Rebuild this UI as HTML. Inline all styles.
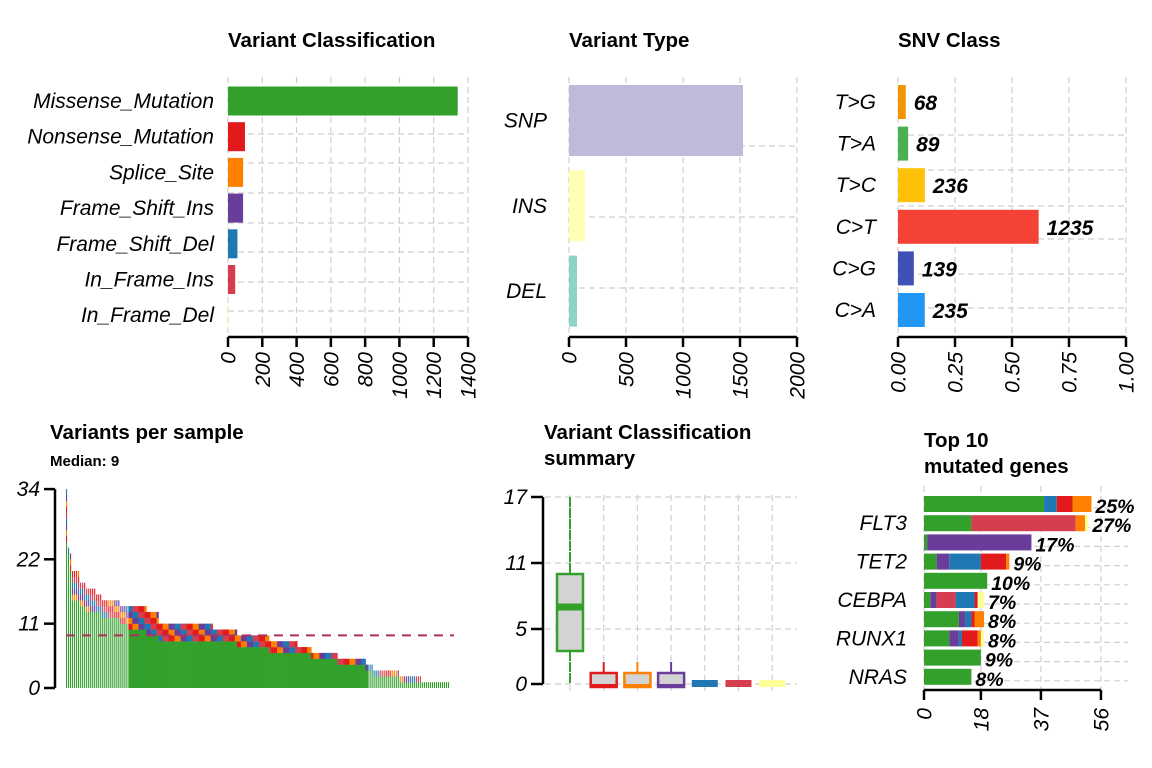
<!DOCTYPE html>
<html><head><meta charset="utf-8"><style>
html,body{margin:0;padding:0;background:#fff}
svg{display:block;font-family:"Liberation Sans",Arial,sans-serif}
.t{font-weight:bold;font-size:20.5px}
.lab{font-style:italic;font-size:21px}
.g{stroke:#cfcfcf;stroke-width:1.2;stroke-dasharray:6,4;fill:none}
.ax{stroke:#000;stroke-width:2.5;fill:none}
</style></head><body>
<svg id="s" width="1152" height="768" viewBox="0 0 1152 768"></svg>
<script>
// ---- data ----
const vcCats=["Missense_Mutation","Nonsense_Mutation","Splice_Site","Frame_Shift_Ins","Frame_Shift_Del","In_Frame_Ins","In_Frame_Del"];
const vcVals=[1340,99,88,88,55,42,3];
const vcCols=["#33A02C","#E31A1C","#FF7F00","#6A3D9A","#1F78B4","#D53E4F","#FFFF99"];
const vcTicks=[0,200,400,600,800,1000,1200,1400];
const vtCats=["SNP","INS","DEL"];
const vtVals=[1526,140,70];
const vtCols=["#BEBADA","#FFFFB3","#8DD3C7"];
const vtTicks=[0,500,1000,1500,2000];
const snvCats=["T>G","T>A","T>C","C>T","C>G","C>A"];
const snvCounts=[68,89,236,1235,139,235];
const snvCols=["#F29403","#4CAF50","#FFC107","#F44336","#3F51B5","#2196F3"];
const snvTicks=["0.00","0.25","0.50","0.75","1.00"];
// per-sample runs: [number of samples, total variants, missense variants]
const vpsRuns=[[1,34,25],[1,24,23],[1,23,20],[4,20,15],[3,18,14],[5,17,13],[3,16,13],[9,15,12],[4,14,11],[9,14,10],[6,13,9],[27,11,8],[12,10,8],[16,9,7],[14,8,6],[7,7,6],[13,6,5],[14,5,4],[4,4,3],[13,3,2],[11,2,1],[14,1,1]];
const vpsTicks=[0,11,22,34];
const vpsMedian=9;
const boxQ1=[3,0,0,0,0,0,0];
const boxMed=[7,0,0,0,0,0,0];
const boxQ3=[10,1,1,1,0,0,0];
const boxMax=[17,2,2,2,0,0,0];
const boxTicks=[0,5,11,17];
const genes=["DNMT3A","FLT3","NPM1","TET2","IDH2","CEBPA","TP53","RUNX1","IDH1","NRAS"];
const geneShow=[false,true,false,true,false,true,false,true,false,true];
const gMis=[38,15,1,4,20,2,11,8,18,15];
const gNon=[5,0,0,8,0,1,1,5,0,0];
const gSpl=[6,3,0,1,0,0,3,1,0,0];
const gFsi=[0,0,33,4,0,2,2,3,0,0];
const gFsd=[4,0,0,10,0,6,2,1,0,0];
const gIfi=[0,33,0,0,0,6,0,0,0,0];
const gIfd=[0,1,0,0,0,2,0,1,0,0];
const gPct=["25%","27%","17%","9%","10%","7%","8%","8%","9%","8%"];
const gTicks=[0,18,37,56];

const S=document.getElementById('s');const NS="http://www.w3.org/2000/svg";
function mk(tag,attrs,parent,txt){const e=document.createElementNS(NS,tag);for(const k in attrs)e.setAttribute(k,attrs[k]);if(txt!==undefined)e.textContent=txt;(parent||S).appendChild(e);return e;}
function grp(name){const g=mk('g',{});


return g;}
function rotTick(g,x,y,txt,name){const t=mk('text',{transform:`translate(${x+7.5},${y}) rotate(-90)`,'text-anchor':'end','font-size':'21','font-style':'italic'},g,txt);

}
function title(txt,x,y,name,cls){const t=mk('text',{x:x,y:y,class:cls||'t'},S,txt);

return t;}

// ---- Panel 1: variant classification ----
(function(){const g=grp('variant-classification-panel');
const x0=228,x1=468,max=1400;const sx=v=>x0+v/max*(x1-x0);
title('Variant Classification',228,47,'variant-classification-title');
vcTicks.forEach(v=>mk('line',{x1:sx(v),x2:sx(v),y1:77,y2:337,class:'g'},g));
[134,163,193,223,252,282,311].forEach(y=>mk('line',{x1:x0,x2:x1,y1:y,y2:y,class:'g'},g));
const c0=101,step=35.7,h=29;
vcCats.forEach((c,i)=>{const yc=c0+i*step;
const r=mk('rect',{x:x0,y:yc-h/2,width:sx(vcVals[i])-x0,height:h,fill:vcCols[i]},g);


const t=mk('text',{x:214,y:yc+7,'text-anchor':'end',class:'lab'},g,c);

});
mk('line',{x1:x0,x2:x1,y1:337,y2:337,class:'ax'},g);
vcTicks.forEach(v=>{mk('line',{x1:sx(v),x2:sx(v),y1:337,y2:347,class:'ax'},g);rotTick(g,sx(v),352,String(v),'x-tick-label');});
})();

// ---- Panel 2: variant type ----
(function(){const g=grp('variant-type-panel');
const x0=569,x1=797,max=2000;const sx=v=>x0+v/max*(x1-x0);
title('Variant Type',569,47,'variant-type-title');
vtTicks.forEach(v=>mk('line',{x1:sx(v),x2:sx(v),y1:77,y2:337,class:'g'},g));
[146,217,288].forEach(y=>mk('line',{x1:x0,x2:x1,y1:y,y2:y,class:'g'},g));
const c0=120.5,step=85.3,h=71;
vtCats.forEach((c,i)=>{const yc=c0+i*step;
const r=mk('rect',{x:x0,y:yc-h/2,width:sx(vtVals[i])-x0,height:h,fill:vtCols[i]},g);


const t=mk('text',{x:547,y:yc+7,'text-anchor':'end',class:'lab'},g,c);

});
mk('line',{x1:x0,x2:x1,y1:337,y2:337,class:'ax'},g);
vtTicks.forEach(v=>{mk('line',{x1:sx(v),x2:sx(v),y1:337,y2:347,class:'ax'},g);rotTick(g,sx(v),352,String(v),'x-tick-label');});
})();

// ---- Panel 3: SNV class ----
(function(){const g=grp('snv-class-panel');
const x0=898,x1=1126;const sx=v=>x0+v*(x1-x0);
const tot=snvCounts.reduce((a,b)=>a+b,0);
title('SNV Class',898,47,'snv-class-title');
snvTicks.forEach(v=>mk('line',{x1:sx(+v),x2:sx(+v),y1:77,y2:337,class:'g'},g));
[135,170,206,239,274,308].forEach(y=>mk('line',{x1:x0,x2:x1,y1:y,y2:y,class:'g'},g));
const c0=102,step=41.6,h=34;
snvCats.forEach((c,i)=>{const yc=c0+i*step;const w=sx(snvCounts[i]/tot)-x0;
const r=mk('rect',{x:x0,y:yc-h/2,width:w,height:h,fill:snvCols[i]},g);


const t=mk('text',{x:876,y:yc+7,'text-anchor':'end',class:'lab'},g,c);


const v=mk('text',{x:x0+w+8,y:yc+8,'font-size':'21','font-style':'italic','font-weight':'bold'},g,String(snvCounts[i]));

});
mk('line',{x1:x0,x2:x1,y1:337,y2:337,class:'ax'},g);
snvTicks.forEach(v=>{mk('line',{x1:sx(+v),x2:sx(+v),y1:337,y2:347,class:'ax'},g);rotTick(g,sx(+v),352,v,'x-tick-label');});
})();

// ---- Panel 4: variants per sample ----
(function(){const g=grp('variants-per-sample-panel');
title('Variants per sample',50,439,'variants-per-sample-title');
const m=title('Median: 9',50,466,'median-label');m.setAttribute('class','');m.setAttribute('font-size','15');m.setAttribute('font-weight','bold');
const y0=688,sy=v=>y0-v*5.85;
const samples=[];vpsRuns.forEach(r=>{for(let k=0;k<r[0];k++)samples.push([r[1],r[2]]);});
const n=samples.length,xs=66,xe=450,step=(xe-xs)/n;
const others=["#E31A1C","#FF7F00","#6A3D9A","#1F78B4","#D53E4F","#FFFF99"];
samples.forEach((s,i)=>{const solid=i>=31&&i<150;const w=solid?step+0.3:step*0.55;const x=xs+i*step;
const b=mk('rect',{x:x,y:sy(s[1]),width:w,height:y0-sy(s[1]),fill:'#33A02C'},g);


for(let u=s[1];u<s[0];u++){const r=mk('rect',{x:x,y:sy(u+1),width:w,height:sy(u)-sy(u+1)+0.2,fill:others[(Math.floor(i/3)+u)%5]},g);

}});
const ml=mk('line',{x1:66,x2:454,y1:sy(vpsMedian),y2:sy(vpsMedian),stroke:'#B03060','stroke-width':2,'stroke-dasharray':'9,7'},g);


mk('line',{x1:55,x2:55,y1:sy(34),y2:y0,class:'ax'},g);
vpsTicks.forEach(v=>{mk('line',{x1:44,x2:55,y1:sy(v),y2:sy(v),class:'ax'},g);
const t=mk('text',{x:40,y:sy(v)+7,'text-anchor':'end',class:'lab'},g,String(v));

});
})();

// ---- Panel 5: boxplot summary ----
(function(){const g=grp('variant-classification-summary-panel');
title('Variant Classification',544,439,'summary-title-line1');
title('summary',544,465,'summary-title-line2');
const y0=684,sy=v=>y0-v*11;const cx=i=>570+i*33.7;
vcCats.forEach((c,i)=>mk('line',{x1:cx(i),x2:cx(i),y1:495,y2:692,class:'g'},g));
boxTicks.forEach(v=>mk('line',{x1:545,x2:797,y1:sy(v),y2:sy(v),class:'g'},g));
vcCats.forEach((c,i)=>{const col=vcCols[i];
if(boxMax[i]>boxQ3[i]){const w=mk('line',{x1:cx(i),x2:cx(i),y1:sy(boxMax[i]),y2:sy(boxQ3[i]),stroke:col,'stroke-width':2,'stroke-dasharray':i==0?'10,1':''},g);

}
if(i==0){mk('line',{x1:cx(i),x2:cx(i),y1:sy(boxQ1[i]),y2:y0,stroke:col,'stroke-width':2,'stroke-dasharray':'10,1'},g);}
if(boxQ3[i]>boxQ1[i]){const b=mk('rect',{x:cx(i)-13,y:sy(boxQ3[i]),width:26,height:sy(boxQ1[i])-sy(boxQ3[i])+(boxQ1[i]==0?3:0),fill:'#D3D3D3',stroke:col,'stroke-width':2.5},g);


mk('rect',{x:cx(i)-13,y:sy(boxMed[i])-(boxMed[i]==0?0:3.5),width:26,height:boxMed[i]==0?4:7,fill:col},g);}
else{const b=mk('rect',{x:cx(i)-13,y:y0-4,width:26,height:7,fill:col},g);

}});
mk('line',{x1:543,x2:543,y1:sy(17),y2:y0,class:'ax'},g);
boxTicks.forEach(v=>{mk('line',{x1:531,x2:543,y1:sy(v),y2:sy(v),class:'ax'},g);
const t=mk('text',{x:527,y:sy(v)+7,'text-anchor':'end',class:'lab'},g,String(v));

});
})();

// ---- Panel 6: top 10 genes ----
(function(){const g=grp('top-genes-panel');
title('Top 10',924,447,'top-genes-title-line1');
title('mutated genes',924,473,'top-genes-title-line2');
const x0=924,sx=v=>x0+v*3.16;const yc=i=>504+i*19.2,h=16;
gTicks.forEach(v=>mk('line',{x1:sx(v),x2:sx(v),y1:486,y2:690,class:'g'},g));
genes.forEach((gn,i)=>mk('line',{x1:x0,x2:1128,y1:yc(i)+4,y2:yc(i)+4,class:'g'},g));
const stack=[[gMis,"#33A02C"],[gFsi,"#6A3D9A"],[gIfi,"#D53E4F"],[gFsd,"#1F78B4"],[gNon,"#E31A1C"],[gSpl,"#FF7F00"],[gIfd,"#FFFF99"]];
genes.forEach((gn,i)=>{let acc=0;
stack.forEach(([arr,col])=>{if(arr[i]>0){const r=mk('rect',{x:sx(acc),y:yc(i)-h/2,width:sx(arr[i])-x0,height:h,fill:col},g);

acc+=arr[i];}});
const p=mk('text',{x:sx(acc)+4,y:yc(i)+9,'font-size':'19.5','font-style':'italic','font-weight':'bold'},g,gPct[i]);


if(geneShow[i]){const t=mk('text',{x:907,y:yc(i)+7,'text-anchor':'end',class:'lab'},g,gn);

}});
mk('line',{x1:sx(0),x2:sx(56),y1:690,y2:690,class:'ax'},g);
gTicks.forEach(v=>{mk('line',{x1:sx(v),x2:sx(v),y1:690,y2:700,class:'ax'},g);rotTick(g,sx(v),708,String(v),'x-tick-label');});
})();
</script>
</body></html>
